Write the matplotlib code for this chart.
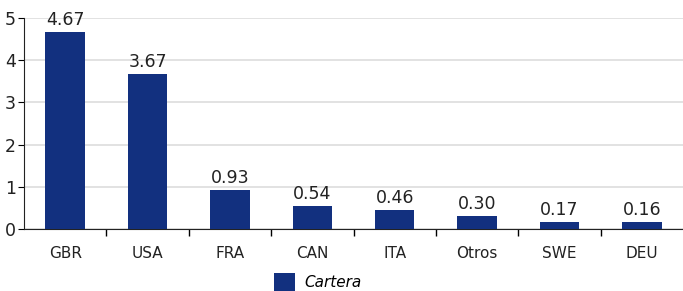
import matplotlib
matplotlib.use("Agg")
import matplotlib.pyplot as plt
import numpy as np

paises = ["GBR", "USA", "FRA", "CAN", "ITA", "Otros", "SWE", "DEU"]
cartera = [4.67, 3.67, 0.93, 0.54, 0.46, 0.30, 0.17, 0.16]
etiquetas = ["4.67", "3.67", "0.93", "0.54", "0.46", "0.30", "0.17", "0.16"]

azul = "#12307f"

fig = plt.figure(figsize=(6.83, 2.91), dpi=100)
ax = fig.add_axes([24 / 683, 1 - 229 / 291, 1 - 24 / 683, (229 - 18) / 291])

x = np.arange(len(paises))
barras = ax.bar(x, cartera, 0.48, color=azul, label="Cartera", zorder=3)

for xi, v, t in zip(x, cartera, etiquetas):
    ax.text(xi, v + 0.07, t, ha="center", va="bottom", fontsize=12.5, color="#222222")

ax.set_xlim(-0.5, len(paises) - 0.5)
ax.set_ylim(0, 5)
ax.set_yticks([0, 1, 2, 3, 4, 5])
ax.yaxis.grid(True, color="#dddddd", linewidth=1.2, zorder=0)
ax.set_axisbelow(True)

# etiquetas centradas, marcas entre categorías
ax.set_xticks(x)
ax.set_xticklabels(paises, fontsize=11, color="#222222")
ax.tick_params(axis="x", length=0, pad=12)
ax.set_xticks(np.arange(0.5, len(paises) - 0.5, 1), minor=True)
ax.tick_params(axis="x", which="minor", length=5, width=1, direction="out")
ax.tick_params(axis="y", labelsize=12.5, labelcolor="#222222", length=4, pad=2)

for s in ["top", "right"]:
    ax.spines[s].set_visible(False)
ax.spines["left"].set_color("#222222")
ax.spines["bottom"].set_color("#222222")

fig.legend(handles=[barras], labels=["Cartera"], loc="center", bbox_to_anchor=(0.465, 0.03),
           frameon=False, prop={"style": "italic", "size": 11}, handlelength=1.4,
           handleheight=1.5, handletextpad=0.6)

fig.savefig("out.png", dpi=100)
